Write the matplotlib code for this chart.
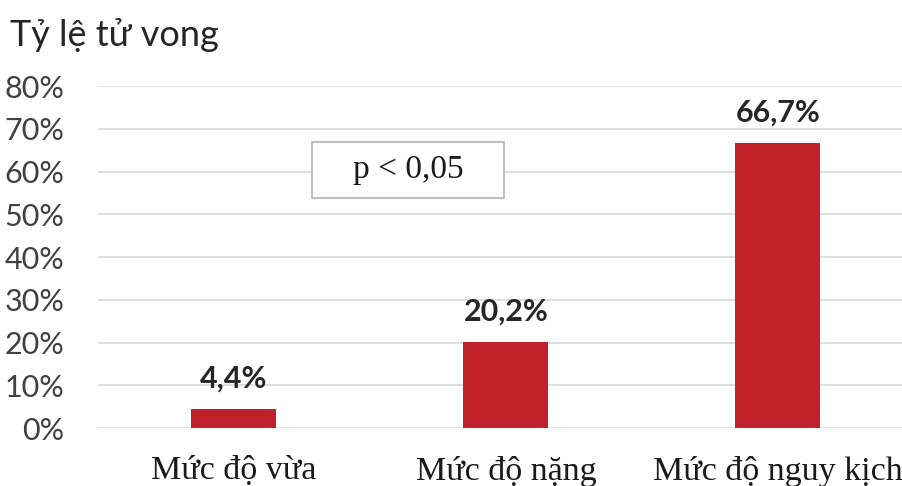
import matplotlib.pyplot as plt
from matplotlib.patches import Rectangle
import numpy as np

# tỷ lệ tử vong theo mức độ bệnh
categories = ["Mức độ vừa", "Mức độ nặng", "Mức độ nguy kịch"]
values = [4.4, 20.2, 66.7]
value_labels = ["4,4%", "20,2%", "66,7%"]
yticks = [0, 10, 20, 30, 40, 50, 60, 70, 80]
title = "Tỷ lệ tử vong"
p_text = "p < 0,05"

sans = ["Lato", "Open Sans", "DejaVu Sans"]
serif = ["Liberation Serif", "DejaVu Serif"]
bar_color = "#C0202A"
grid_color = "#D9D9D9"

fig = plt.figure(figsize=(9.03, 4.86), dpi=100)
ax = fig.add_axes([0.1085, 0.1193, 0.8915, 0.7037])

x = np.arange(len(categories))
ax.bar(x, values, width=0.3125, color=bar_color, zorder=3)

for xi, v, lab in zip(x, values, value_labels):
    ax.annotate(lab, (xi, v), xytext=(0, 22), textcoords="offset points",
                ha="center", va="center", fontsize=22, fontweight="bold",
                family=sans, color="#262626")

ax.set_xlim(-0.5, 2.46)
ax.set_ylim(0, 80)
ax.set_yticks(yticks)
ax.set_yticklabels([f"{t}%" for t in yticks], family=sans, fontsize=22, color="#404040")
ax.set_xticks(x)
ax.set_xticklabels(categories, family=serif, fontsize=24.5, color="#1a1a1a")
ax.tick_params(axis="y", length=0, pad=24)
ax.tick_params(axis="x", length=0, pad=20)
ax.grid(axis="y", color=grid_color, linewidth=1.2, zorder=0)
for s in ax.spines.values():
    s.set_visible(False)

fig.text(0.011, 0.928, title, family=sans, fontsize=26, color="#262626",
         ha="left", va="center")

# khung chú thích p
ax.add_patch(Rectangle((0.287, 53.8), 0.706, 13.1, facecolor="white",
                       edgecolor="#BFBFBF", linewidth=1.5, zorder=4))
ax.text(0.64, 60.3, p_text, family=serif, fontsize=24, color="#1a1a1a",
        ha="center", va="center", zorder=5)

fig.savefig("out.png", dpi=100)
